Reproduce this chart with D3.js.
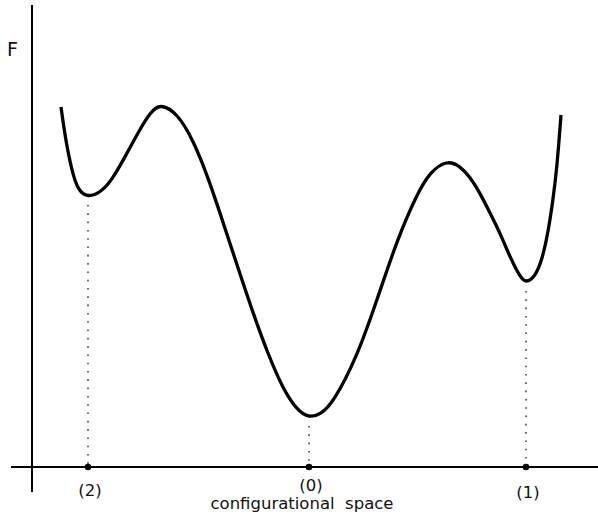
<!DOCTYPE html>
<html>
<head>
<meta charset="utf-8">
<script src="https://cdn.jsdelivr.net/npm/d3@7"></script>
<style>
  html, body { margin: 0; padding: 0; background: #fff; }
  svg { display: block; }
  text { font-family: "DejaVu Sans", Verdana, sans-serif; fill: #111; }
</style>
</head>
<body>
<svg id="chart" width="598" height="516"></svg>
<script>
// Configurational coordinate (arbitrary units) and free energy F (arbitrary units)
const coordX = [29, 34, 42, 48, 56, 68, 80, 93, 108, 118, 128, 146, 161, 176, 191, 206, 221, 236, 251, 265,
                277, 289, 301, 325, 345, 365, 385, 398, 415, 428, 438, 448, 458, 468, 478, 488, 494, 503,
                510, 516, 521, 525, 529];
const freeF  = [360, 324, 287, 275, 270, 274, 287, 310, 338, 354, 364, 353, 327, 290, 245, 199, 154, 113, 78, 57,
                49, 53, 64, 110, 167, 227, 273, 295, 307, 301, 290, 274, 254, 234, 210, 190, 184, 190,
                207, 234, 267, 300, 352];

// Minima (states) marked on the configurational axis
const minimaX = [56, 277, 494];
const minimaF = [270, 49, 184];
const minimaLabels = ["(2)", "(0)", "(1)"];

const xAxisTitle = "configurational  space";
const yAxisTitle = "F";

const svg = d3.select("#chart");
const x = d3.scaleLinear().domain([0, 566]).range([32, 598]);
const y = d3.scaleLinear().domain([0, 462]).range([467, 5]);

// Axes (plain lines, no ticks)
svg.append("line")
  .attr("x1", x(0)).attr("x2", x(0))
  .attr("y1", y(462)).attr("y2", y(-25))
  .attr("stroke", "#000").attr("stroke-width", 2);
svg.append("line")
  .attr("x1", x(-21)).attr("x2", x(566))
  .attr("y1", y(0)).attr("y2", y(0))
  .attr("stroke", "#000").attr("stroke-width", 2);

// Dotted drop lines from minima
svg.selectAll("line.drop")
  .data(minimaX)
  .join("line")
  .attr("class", "drop")
  .attr("x1", d => x(d)).attr("x2", d => x(d))
  .attr("y1", (d, i) => y(minimaF[i]) + 8)
  .attr("y2", y(0))
  .attr("stroke", "#444")
  .attr("stroke-width", 1.6)
  .attr("stroke-dasharray", "1.6 6.7");

// Curve
const pts = coordX.map((d, i) => [d, freeF[i]]);
const line = d3.line()
  .x(d => x(d[0]))
  .y(d => y(d[1]))
  .curve(d3.curveBasis);
svg.append("path")
  .datum(pts)
  .attr("d", line)
  .attr("fill", "none")
  .attr("stroke", "#000")
  .attr("stroke-width", 3.3)
  .attr("stroke-linecap", "butt")
  .attr("stroke-linejoin", "round");

// Dots on the axis
svg.selectAll("circle.state")
  .data(minimaX)
  .join("circle")
  .attr("class", "state")
  .attr("cx", d => x(d))
  .attr("cy", y(0))
  .attr("r", 3.3)
  .attr("fill", "#000");

// State labels
const labelBaselines = [496, 491, 498];
svg.selectAll("text.state")
  .data(minimaX)
  .join("text")
  .attr("class", "state")
  .attr("x", d => x(d) + 2)
  .attr("y", (d, i) => labelBaselines[i])
  .attr("text-anchor", "middle")
  .attr("font-size", 16.5)
  .text((d, i) => minimaLabels[i]);

// Axis titles
svg.append("text")
  .attr("x", 302).attr("y", 509)
  .attr("text-anchor", "middle")
  .attr("font-size", 16.5)
  .style("white-space", "pre")
  .text(xAxisTitle);
svg.append("text")
  .attr("x", 7).attr("y", 56)
  .attr("font-size", 19)
  .text(yAxisTitle);
</script>
</body>
</html>
